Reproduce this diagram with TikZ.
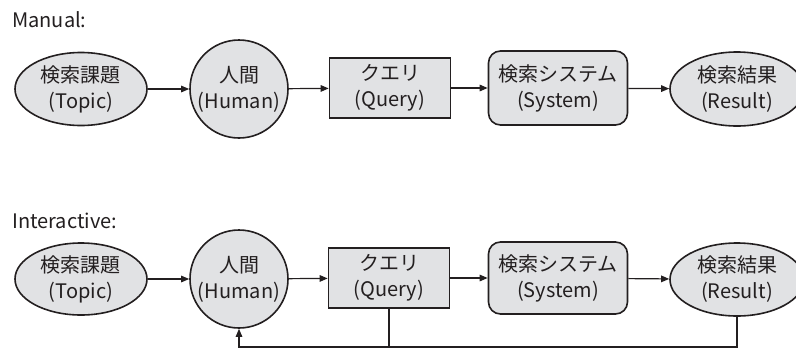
\documentclass[tikz,border=0pt]{standalone}
\usepackage{fontspec}
\setmainfont{Noto Sans CJK JP}
\usetikzlibrary{shapes.geometric,arrows.meta}
\definecolor{ink}{HTML}{231F20}
\definecolor{boxfill}{HTML}{E1E2E4}
\tikzset{
  base/.style={draw=ink, line width=1.6pt, fill=boxfill, text=ink, align=center, inner sep=0pt,
    font=\fontsize{20}{26}\selectfont},
  ell/.style={base, ellipse},
  circ/.style={base, circle},
  rect/.style={base, rectangle},
  rrect/.style={base, rectangle, rounded corners=12pt},
  arr/.style={draw=ink, line width=1.2pt, -{Triangle[length=8pt,width=6.5pt]}},
  ln/.style={draw=ink, line width=1.2pt},
  lbl/.style={text=ink, font=\fontsize{20}{24}\selectfont, anchor=base west, inner sep=0pt}
}
\begin{document}
\begin{tikzpicture}[x=1pt,y=1pt]
\clip (0,0) rectangle (796,-349);
\useasboundingbox (0,0) rectangle (796,-349);
% Manual row
\node[lbl] (lm) at (12,-27) {Manual:};
\node[ell, minimum width=132pt, minimum height=73pt] (t1) at (81,-89) {検索課題\\(Topic)};
\node[circ, minimum size=98pt] (h1) at (239,-89) {人間\\(Human)};
\node[rect, minimum width=121pt, minimum height=60pt] (q1) at (390,-88) {クエリ\\(Query)};
\node[rrect, minimum width=139pt, minimum height=74pt] (s1) at (558,-88) {検索システム\\(System)};
\node[ell, minimum width=134pt, minimum height=74pt] (r1) at (737,-89) {検索結果\\(Result)};
\draw[arr] (t1) -- (h1);
\draw[arr] (h1) -- (q1);
\draw[arr] (q1) -- (s1);
\draw[arr] (s1) -- (r1);
% Interactive row
\node[lbl] (li) at (12,-228) {Interactive:};
\node[ell, minimum width=132pt, minimum height=72pt] (t2) at (81,-279) {検索課題\\(Topic)};
\node[circ, minimum size=98pt] (h2) at (239,-279) {人間\\(Human)};
\node[rect, minimum width=121pt, minimum height=60pt] (q2) at (389,-278) {クエリ\\(Query)};
\node[rrect, minimum width=139pt, minimum height=72pt] (s2) at (558,-278) {検索システム\\(System)};
\node[ell, minimum width=134pt, minimum height=73pt] (r2) at (737,-279.5) {検索結果\\(Result)};
\draw[arr] (t2) -- (h2);
\draw[arr] (h2) -- (q2);
\draw[arr] (q2) -- (s2);
\draw[arr] (s2) -- (r2);
\coordinate (fb) at (239,-347);
\draw[ln] (r2.south) |- (fb);
\draw[arr] (q2.south) |- (fb) -- (h2.south);
\end{tikzpicture}
\end{document}
